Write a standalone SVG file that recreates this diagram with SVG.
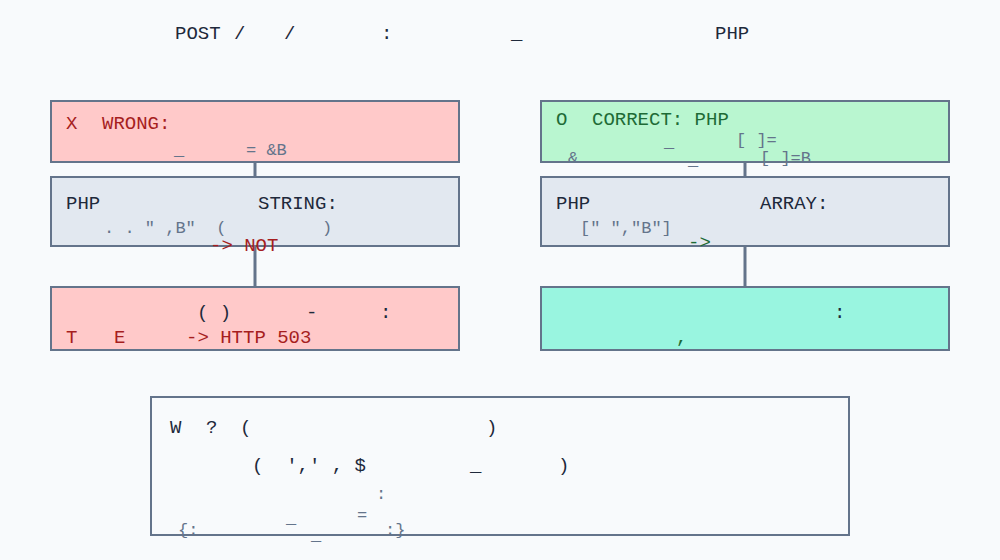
<svg xmlns="http://www.w3.org/2000/svg" width="1000" height="560" viewBox="0 0 1000 560">
<style>
text{font-family:"Liberation Mono","DejaVu Sans Mono",monospace;font-size:19px;white-space:pre}
.d{fill:#1e293b}.g{fill:#64748b;font-size:17px}.r{fill:#a61e1e}.gr{fill:#1e6b36}
.box{stroke:#64748b;stroke-width:2}
</style>
<rect width="1000" height="560" fill="#f8fafc"/>
<g id="title">
<text class="d" x="175" y="39">POST</text><text class="d" x="234" y="39">/</text><text class="d" x="284" y="39">/</text>
<text class="d" x="381" y="39">:</text><text class="d" x="511" y="39">_</text><text class="d" x="715" y="39">PHP</text>
</g>
<g id="connectors" stroke="#64748b" stroke-width="3">
<line x1="255" y1="162" x2="255" y2="177"/><line x1="255" y1="246" x2="255" y2="287"/>
<line x1="745" y1="162" x2="745" y2="177"/><line x1="745" y1="246" x2="745" y2="287"/>
</g>
<g id="wrong">
<rect class="box" x="51" y="101" width="408" height="61" fill="#ffc9c9"/>
<text class="r" x="66" y="129">X</text><text class="r" x="102" y="129">WRONG:</text>
<text class="g" x="174" y="155">_</text><text class="g" x="246" y="155">= &amp;B</text>
</g>
<g id="phpstring">
<rect class="box" x="51" y="177" width="408" height="69" fill="#e2e8f0"/>
<text class="d" x="66" y="209">PHP</text><text class="d" x="258" y="209">STRING:</text>
<text class="g" x="104" y="233">. . " ,B"  (</text><text class="g" x="322" y="233">)</text>
<text class="r" x="210" y="251">-&gt; NOT</text>
</g>
<g id="error">
<rect class="box" x="51" y="287" width="408" height="63" fill="#ffc9c9"/>
<text class="d" x="197" y="318">( )</text><text class="d" x="306" y="318">-</text><text class="d" x="380" y="318">:</text>
<text class="r" x="66" y="343">T</text><text class="r" x="114" y="343">E</text><text class="r" x="186" y="343">-&gt; HTTP 503</text>
</g>
<g id="correct">
<rect class="box" x="541" y="101" width="408" height="61" fill="#b9f6d0"/>
<text class="gr" x="556" y="125">O</text><text class="gr" x="592" y="125">CORRECT: PHP</text>
<text class="g" x="664" y="147">_</text><text class="g" x="736" y="145">[ ]=</text>
<text class="g" x="568" y="163">&amp;</text><text class="g" x="688" y="165">_</text><text class="g" x="760" y="163">[ ]=B</text>
</g>
<g id="phparray">
<rect class="box" x="541" y="177" width="408" height="69" fill="#e2e8f0"/>
<text class="d" x="556" y="209">PHP</text><text class="d" x="760" y="209">ARRAY:</text>
<text class="g" x="580" y="233">[" ","B"]</text>
<text class="gr" x="688" y="248">-&gt;</text>
</g>
<g id="result">
<rect class="box" x="541" y="287" width="408" height="63" fill="#99f5e0"/>
<text class="d" x="834" y="318">:</text><text class="gr" x="676" y="343">,</text>
</g>
<g id="note">
<rect class="box" x="151" y="397" width="698" height="138" fill="#f8fafc"/>
<text class="d" x="170" y="433">W</text><text class="d" x="206" y="433">?</text><text class="d" x="240" y="433">(</text><text class="d" x="486" y="433">)</text>
<text class="d" x="252" y="471">(  ',' , $</text><text class="d" x="470" y="471">_</text><text class="d" x="558" y="471">)</text>
<text class="g" x="376" y="499">:</text><text class="g" x="286" y="523">_</text><text class="g" x="357" y="520">=</text>
<text class="g" x="178" y="535">{:</text><text class="g" x="311" y="540">_</text><text class="g" x="385" y="535">:}</text>
</g>
</svg>
